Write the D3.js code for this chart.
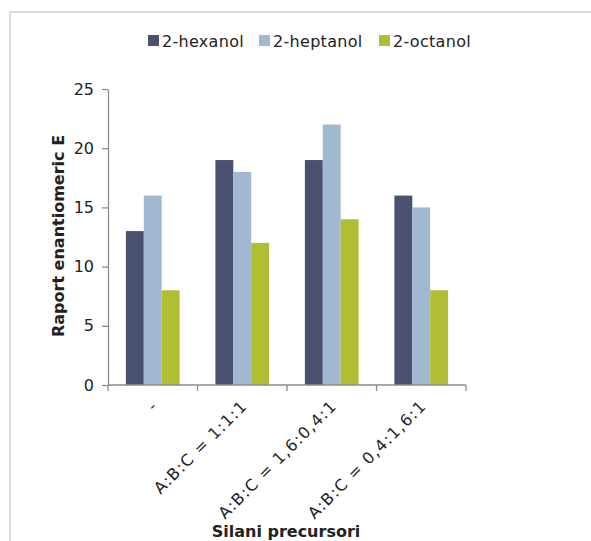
<!DOCTYPE html>
<html>
<head>
<meta charset="utf-8">
<script src="https://cdn.jsdelivr.net/npm/d3@7"></script>
<style>
  html, body { margin: 0; padding: 0; background: #fff; }
  svg { display: block; }
  text { font-family: "DejaVu Sans", Verdana, sans-serif; fill: #222; }
</style>
</head>
<body>
<svg id="chart" width="591" height="541"></svg>
<script>
// Enantiomeric ratio E per silane precursor mix
const categories = ["-", "A:B:C = 1:1:1", "A:B:C = 1,6:0,4:1", "A:B:C = 0,4:1,6:1"];
const seriesNames = ["2-hexanol", "2-heptanol", "2-octanol"];
const hexanol = [13, 19, 19, 16];
const heptanol = [16, 18, 22, 15];
const octanol = [8, 12, 14, 8];
const yTicks = [0, 5, 10, 15, 20, 25];
const colors = ["#4a5170", "#a1b9d0", "#b1bd32"];

const seriesValues = [hexanol, heptanol, octanol];
const rows = categories.map((c, i) => ({
  cat: c,
  vals: seriesNames.map((s, j) => ({ key: s, value: seriesValues[j][i] }))
}));

const svg = d3.select("#chart");

// outer frame
svg.append("path")
  .attr("d", "M10,541 V12 H591")
  .attr("fill", "none")
  .attr("stroke", "#dcdcdc")
  .attr("stroke-width", 2);

const plot = { left: 108, right: 466, top: 89, bottom: 385 };

const x0 = d3.scaleBand().domain(categories).range([plot.left, plot.right]).padding(0);
const bw = x0.bandwidth();
const x1 = d3.scaleBand().domain(seriesNames).range([bw * 0.2, bw * 0.8]).padding(0);
const y = d3.scaleLinear().domain([0, 25]).range([plot.bottom, plot.top]);

// bars
const groups = svg.append("g").selectAll("g")
  .data(rows).join("g")
  .attr("transform", d => `translate(${x0(d.cat)},0)`);

groups.selectAll("rect")
  .data(d => d.vals).join("rect")
  .attr("x", d => x1(d.key))
  .attr("width", x1.bandwidth())
  .attr("y", d => y(d.value))
  .attr("height", d => y(0) - y(d.value))
  .attr("fill", (d, i) => colors[i]);

// y axis
const yAxis = svg.append("g")
  .attr("transform", `translate(${plot.left},0)`)
  .call(d3.axisLeft(y).tickValues(yTicks).tickSize(6).tickPadding(8).tickSizeOuter(0));
yAxis.select(".domain").attr("stroke", "#8c8c8c").attr("stroke-width", 1.3);
yAxis.selectAll(".tick line").attr("stroke", "#8c8c8c").attr("stroke-width", 1.3);
yAxis.selectAll(".tick text")
  .style("font-family", "'DejaVu Sans', Verdana, sans-serif")
  .style("font-size", "16px")
  .attr("fill", "#222");

// x axis: line plus ticks at category boundaries
const xAxisG = svg.append("g");
xAxisG.append("line")
  .attr("x1", plot.left).attr("x2", plot.right)
  .attr("y1", plot.bottom).attr("y2", plot.bottom)
  .attr("stroke", "#8c8c8c").attr("stroke-width", 1.3);
const boundaries = categories.map(c => x0(c)).concat([x0(categories[categories.length - 1]) + bw]);
xAxisG.selectAll("line.tk")
  .data(boundaries).join("line")
  .attr("class", "tk")
  .attr("x1", d => d).attr("x2", d => d)
  .attr("y1", plot.bottom).attr("y2", plot.bottom + 6)
  .attr("stroke", "#8c8c8c").attr("stroke-width", 1.3);

// rotated category labels
xAxisG.selectAll("text.cat")
  .data(categories).join("text")
  .attr("class", "cat")
  .attr("text-anchor", "end")
  .attr("transform", d => `translate(${x0(d) + bw / 2 + 6},${plot.bottom + 22}) rotate(-45)`)
  .style("font-size", "16px")
  .style("letter-spacing", "1.2px")
  .text(d => d);

// axis titles
svg.append("text")
  .attr("x", 286).attr("y", 537)
  .attr("text-anchor", "middle")
  .style("font-size", "16px").style("font-weight", "bold")
  .attr("fill", "#111")
  .text("Silani precursori");

svg.append("text")
  .attr("transform", "translate(64,236) rotate(-90)")
  .attr("text-anchor", "middle")
  .style("font-size", "16px").style("font-weight", "bold")
  .attr("fill", "#111")
  .text("Raport enantiomeric E");

// legend
const legendX = [148, 259, 379];
const legend = svg.append("g").selectAll("g")
  .data(seriesNames).join("g")
  .attr("transform", (d, i) => `translate(${legendX[i]},35)`);
legend.append("rect")
  .attr("width", 11).attr("height", 11)
  .attr("fill", (d, i) => colors[i]);
legend.append("text")
  .attr("x", 14).attr("y", 11.5)
  .style("font-size", "16px")
  .style("letter-spacing", "0.3px")
  .text(d => d);
</script>
</body>
</html>
